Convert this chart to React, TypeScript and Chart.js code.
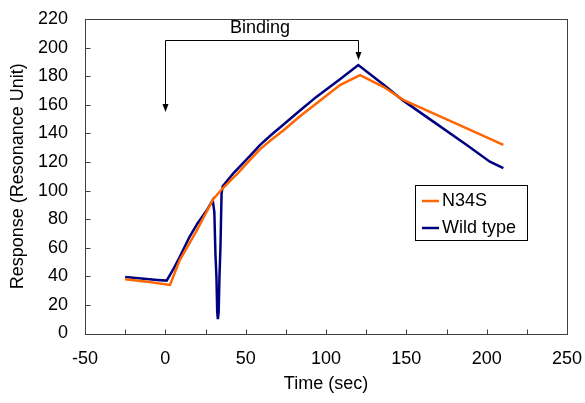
import React, { useEffect, useRef } from 'react';
import { Chart, registerables } from 'chart.js';

Chart.register(...registerables);

// ---- Data ----
const wildTimes = [-25, -15, -5, 0.8, 5, 9, 15, 20, 25.7, 29.5, 30.5, 31.2, 31.8, 32.3, 32.7, 33.2, 33.7, 34.3, 35.0, 35.7, 42.3, 52.7, 59, 66, 73.4, 83.8, 94.2, 108.7, 120.1, 135.7, 148.1, 166.8, 187.6, 202, 210.4];
const wildValues = [39.5, 38.5, 37.5, 37, 45, 53.7, 67.5, 77, 86, 93.4, 85, 55, 40, 15, 10, 15, 40, 60, 98, 103, 112, 124.2, 132, 139, 146, 156, 165.7, 177.8, 187.8, 174.2, 162.9, 148.2, 131.9, 120.2, 115.6];
const mutTimes = [-25, -10, 2.9, 9, 19.5, 29.8, 35.7, 45, 52.7, 59, 66, 73.4, 83.8, 94.2, 108.7, 121.2, 135.7, 148.1, 166.8, 187.6, 210.4];
const mutValues = [38, 36, 34, 51.4, 72, 94, 101.6, 112, 121.4, 129, 135.5, 142, 152, 161, 173.8, 180.8, 172.6, 163.4, 154, 143.5, 131.9];
const seriesNames = ['N34S', 'Wild type'];
const seriesColors = ['#FF6600', '#000080'];
const xTickLabels = [-50, 0, 50, 100, 150, 200, 250];
const yTicks = [0, 20, 40, 60, 80, 100, 120, 140, 160, 180, 200, 220];

// annotation (data units)
const bracketX = [0, 120];
const bracketTopY = 205.3;
const arrowTipY = [155, 191.3];
const annotationText = 'Binding';
const annotationPos = { x: 58.9, y: 213.7 };

const FONT = "'Liberation Sans', Arial, sans-serif";

const decorPlugin = {
  id: 'decor',
  afterDraw(chart: any) {
    const { ctx, chartArea, scales } = chart;
    const xs = scales.x;
    const ys = scales.y;
    ctx.save();
    // frame
    ctx.strokeStyle = '#404040';
    ctx.lineWidth = 1;
    const l = Math.round(chartArea.left) + 0.5;
    const t = Math.round(chartArea.top) + 0.5;
    const r = Math.round(chartArea.right) + 0.5;
    const b = Math.round(chartArea.bottom) + 0.5;
    ctx.strokeRect(l, t, r - l, b - t);
    // inward ticks
    ctx.beginPath();
    xs.ticks.forEach((tk: any) => {
      const px = Math.round(xs.getPixelForValue(tk.value)) + 0.5;
      ctx.moveTo(px, b);
      ctx.lineTo(px, b - 5);
    });
    ys.ticks.forEach((tk: any) => {
      const py = Math.round(ys.getPixelForValue(tk.value)) + 0.5;
      ctx.moveTo(l, py);
      ctx.lineTo(l + 5, py);
    });
    ctx.stroke();

    // bracket with arrows
    ctx.strokeStyle = '#000';
    ctx.fillStyle = '#000';
    const x0 = Math.round(xs.getPixelForValue(bracketX[0])) + 0.5;
    const x1 = Math.round(xs.getPixelForValue(bracketX[1])) + 0.5;
    const yTop = Math.round(ys.getPixelForValue(bracketTopY)) + 0.5;
    const tip0 = ys.getPixelForValue(arrowTipY[0]);
    const tip1 = ys.getPixelForValue(arrowTipY[1]);
    ctx.beginPath();
    ctx.moveTo(x0, tip0 - 6);
    ctx.lineTo(x0, yTop);
    ctx.lineTo(x1, yTop);
    ctx.lineTo(x1, tip1 - 6);
    ctx.stroke();
    const head = (x: number, y: number) => {
      ctx.beginPath();
      ctx.moveTo(x, y);
      ctx.lineTo(x - 3, y - 8);
      ctx.lineTo(x + 3, y - 8);
      ctx.closePath();
      ctx.fill();
    };
    head(x0, tip0);
    head(x1, tip1);
    ctx.font = `18px ${FONT}`;
    ctx.textAlign = 'center';
    ctx.textBaseline = 'middle';
    ctx.fillText(annotationText, xs.getPixelForValue(annotationPos.x), ys.getPixelForValue(annotationPos.y));

    // legend
    const lx = 415.5, ly = 185.5, lw = 112, lh = 55;
    ctx.fillStyle = '#fff';
    ctx.fillRect(lx, ly, lw, lh);
    ctx.strokeStyle = '#000';
    ctx.strokeRect(lx, ly, lw, lh);
    ctx.textAlign = 'left';
    const rows = [201, 228];
    seriesNames.forEach((name, i) => {
      ctx.strokeStyle = seriesColors[i];
      ctx.lineWidth = 2.5;
      ctx.beginPath();
      ctx.moveTo(422, rows[i]);
      ctx.lineTo(439, rows[i]);
      ctx.stroke();
      ctx.fillStyle = '#000';
      ctx.fillText(name, 442, rows[i]);
    });
    ctx.restore();
  },
};

export default function App() {
  const canvasRef = useRef<HTMLCanvasElement | null>(null);
  useEffect(() => {
    const prevMargin = document.body.style.margin;
    document.body.style.margin = '0';
    const canvas = canvasRef.current;
    if (!canvas) return;
    const chart = new Chart(canvas, {
      type: 'scatter',
      data: {
        datasets: [
          {
            label: seriesNames[0],
            data: mutTimes.map((x, i) => ({ x, y: mutValues[i] })),
            borderColor: seriesColors[0],
            backgroundColor: seriesColors[0],
            showLine: true,
            borderWidth: 2.5,
            pointRadius: 0,
            tension: 0,
          },
          {
            label: seriesNames[1],
            data: wildTimes.map((x, i) => ({ x, y: wildValues[i] })),
            borderColor: seriesColors[1],
            backgroundColor: seriesColors[1],
            showLine: true,
            borderWidth: 2.5,
            pointRadius: 0,
            tension: 0,
          },
        ],
      },
      options: {
        animation: false,
        responsive: true,
        maintainAspectRatio: false,
        layout: { padding: { top: 19, right: 18, left: 0, bottom: 0 } },
        plugins: { legend: { display: false }, tooltip: { enabled: false } },
        scales: {
          x: {
            type: 'linear',
            min: -50,
            max: 250,
            afterFit: (s: any) => { s.height = 69.5; s.paddingLeft = 0; s.paddingRight = 0; },
            afterBuildTicks: (s: any) => {
              const arr: any[] = [];
              for (let v = -50; v <= 250; v += 25) arr.push({ value: v });
              s.ticks = arr;
            },
            ticks: {
              autoSkip: false,
              maxRotation: 0,
              padding: 15,
              color: '#000',
              font: { family: FONT, size: 18 },
              callback: (v: any) => (xTickLabels.includes(Number(v)) ? String(v) : ''),
            },
            grid: { display: false, drawTicks: false },
            border: { display: false },
            title: {
              display: true,
              text: 'Time (sec)',
              color: '#000',
              font: { family: FONT, size: 18 },
              padding: { top: 0, bottom: 8 },
            },
          },
          y: {
            type: 'linear',
            min: 0,
            max: 220,
            afterFit: (s: any) => { s.width = 85; s.paddingTop = 0; s.paddingBottom = 0; },
            afterBuildTicks: (s: any) => {
              s.ticks = yTicks.map((v) => ({ value: v }));
            },
            ticks: {
              autoSkip: false,
              padding: 17,
              color: '#000',
              font: { family: FONT, size: 18 },
            },
            grid: { display: false, drawTicks: false },
            border: { display: false },
            title: {
              display: true,
              text: 'Response (Resonance Unit)',
              color: '#000',
              font: { family: FONT, size: 18 },
              padding: { top: 7, bottom: 0 },
            },
          },
        },
      },
      plugins: [decorPlugin],
    });
    return () => {
      chart.destroy();
      document.body.style.margin = prevMargin;
    };
  }, []);
  return (
    <div style={{ position: 'fixed', left: 0, top: 0, width: 585, height: 403, background: '#fff' }}>
      <canvas ref={canvasRef} />
    </div>
  );
}
